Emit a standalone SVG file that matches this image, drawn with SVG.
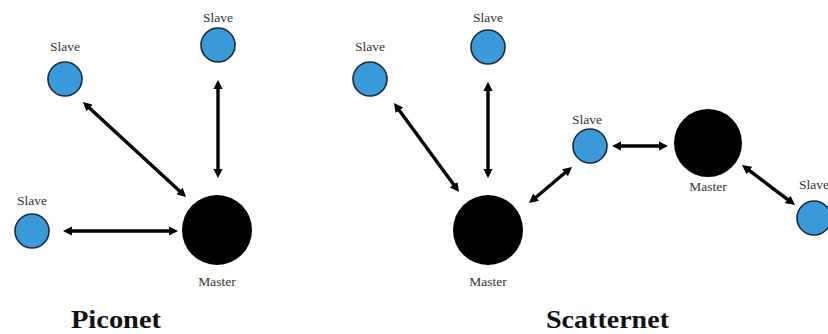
<svg xmlns="http://www.w3.org/2000/svg" width="828" height="334" viewBox="0 0 828 334">
<style>
.slave{fill:#3a9ad9;stroke:#1b2a38;stroke-width:1.6}
.master{fill:#000}
.lbl{font-family:"Liberation Serif",serif;font-size:13.5px;fill:#333;text-anchor:middle}
.title{font-family:"Liberation Serif",serif;font-size:25px;font-weight:bold;fill:#111}
.conn line{stroke:#000;stroke-width:3.4;marker-start:url(#ah);marker-end:url(#ah)}
</style>
<defs>
<marker id="ah" viewBox="0 0 10 10" refX="6" refY="5" markerWidth="2.7" markerHeight="2.7" orient="auto-start-reverse">
<path d="M0,0 L10,5 L0,10 z" fill="#000"/>
</marker>
</defs>
<rect width="828" height="334" fill="#fff"/>
<g id="piconet-slave-1"><circle class="slave" cx="65" cy="79" r="17"/><text class="lbl" x="65" y="51">Slave</text></g>
<g id="piconet-slave-2"><circle class="slave" cx="218" cy="45" r="17"/><text class="lbl" x="218" y="22">Slave</text></g>
<g id="piconet-slave-3"><circle class="slave" cx="32" cy="231" r="17"/><text class="lbl" x="32" y="205">Slave</text></g>
<g id="piconet-master"><circle class="master" cx="217" cy="230" r="35"/><text class="lbl" x="217" y="286">Master</text></g>
<g id="scatter-slave-1"><circle class="slave" cx="370" cy="79" r="17"/><text class="lbl" x="370" y="51">Slave</text></g>
<g id="scatter-slave-2"><circle class="slave" cx="488" cy="47" r="17"/><text class="lbl" x="488" y="22">Slave</text></g>
<g id="scatter-slave-3"><circle class="slave" cx="590" cy="146" r="17"/><text class="lbl" x="587" y="124">Slave</text></g>
<g id="scatter-slave-4"><circle class="slave" cx="814" cy="218" r="17"/><text class="lbl" x="799" y="189" style="text-anchor:start">Slave</text></g>
<g id="scatter-master-1"><circle class="master" cx="488" cy="230" r="35"/><text class="lbl" x="488" y="286">Master</text></g>
<g id="scatter-master-2"><circle class="master" cx="708" cy="143" r="34"/><text class="lbl" x="708" y="191">Master</text></g>
<g id="connectors" class="conn">
<line x1="218" y1="83.6" x2="218" y2="174.4"/>
<line x1="85.6" y1="104.4" x2="183.4" y2="194.6"/>
<line x1="66.6" y1="231" x2="174.4" y2="231"/>
<line x1="488" y1="85.6" x2="488" y2="174.4"/>
<line x1="396.1" y1="105.9" x2="456.9" y2="189.1"/>
<line x1="531.8" y1="200.7" x2="569.2" y2="169.3"/>
<line x1="615.6" y1="146" x2="664.4" y2="146"/>
<line x1="744.9" y1="167.2" x2="792.1" y2="202.8"/>
</g>
<g id="titles">
<text class="title" x="71" y="328" textLength="90" lengthAdjust="spacingAndGlyphs">Piconet</text>
<text class="title" x="546" y="328" textLength="123" lengthAdjust="spacingAndGlyphs">Scatternet</text>
</g>
</svg>
